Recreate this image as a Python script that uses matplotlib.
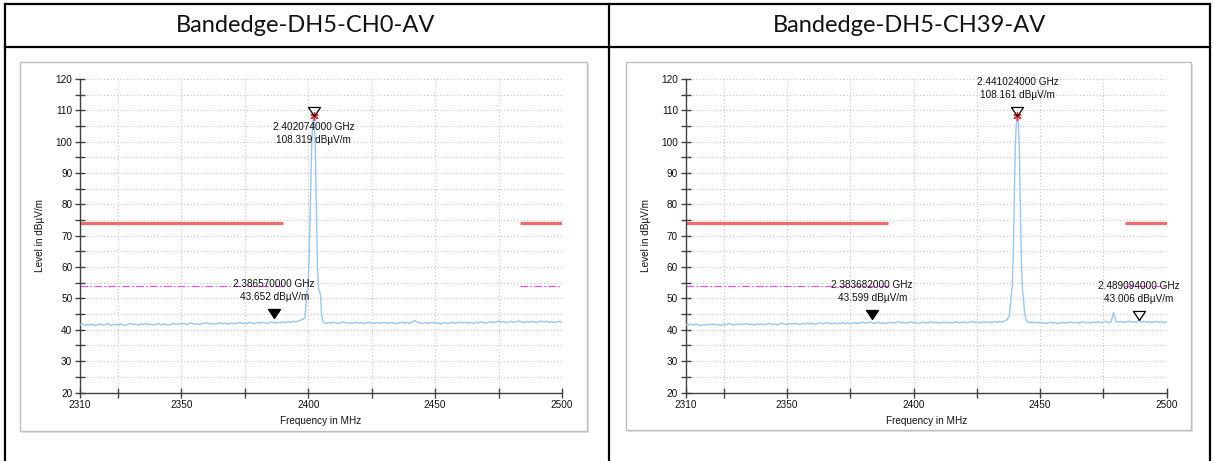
import numpy as np
import matplotlib
matplotlib.use("Agg")
import matplotlib.pyplot as plt
from matplotlib.patches import Rectangle
from matplotlib.lines import Line2D

# ---------------- data ----------------
titles = ["Bandedge-DH5-CH0-AV", "Bandedge-DH5-CH39-AV"]

x_ticks = [2310, 2325, 2350, 2375, 2400, 2425, 2450, 2475, 2500]
x_labels = ["2310", "", "2350", "", "2400", "", "2450", "", "2500"]
y_ticks = list(range(20, 121, 5))
y_labels = [str(v) if v % 10 == 0 else "" for v in y_ticks]

limit_peak = 74.0
limit_avg = 54.0
limit_ranges = [(2310, 2390), (2483.5, 2500)]

# Chart 1 (CH0)
c1_low_start = 2310
c1_low = [41.6, 41.9, 41.4, 41.7, 41.5, 41.8, 41.3, 41.6, 41.9, 41.5,
          41.7, 42.0, 41.4, 41.6, 41.8, 41.5, 41.9, 41.6, 41.4, 41.8,
          42.0, 41.6, 41.8, 41.5, 41.9, 41.7, 42.1, 41.6, 41.8, 41.5,
          41.7, 42.0, 41.6, 41.9, 41.7, 41.5, 41.8, 42.0, 41.7, 41.9,
          41.8, 42.1, 41.7, 41.9, 42.2, 41.8, 42.0, 41.7, 41.9, 42.1,
          42.3, 41.9, 42.1, 41.8, 42.0, 42.2, 41.9, 42.1, 41.8, 42.0,
          42.2, 41.9, 42.1, 42.3, 42.0, 42.2, 41.9, 42.4, 42.1, 42.0,
          42.3, 42.1, 42.4, 42.2, 42.0, 42.5, 42.3, 42.1, 42.4, 42.2,
          42.5, 42.3, 42.6, 42.4, 42.7, 42.5, 42.8, 43.1, 43.4]
c1_peak_f = [2398.6, 2399.0, 2399.4, 2399.8, 2400.3, 2400.8, 2401.3, 2401.7, 2402.074,
             2402.4, 2402.8, 2403.2, 2403.6, 2404.0, 2404.4, 2404.8, 2405.2, 2405.6]
c1_peak_l = [44.0, 47.0, 52.0, 53.0, 62.0, 80.0, 98.0, 105.5, 108.319,
             106.0, 96.0, 78.0, 60.0, 53.0, 52.5, 51.0, 45.0, 43.0]
c1_high_start = 2406
c1_high = [42.4, 42.0, 42.3, 42.1, 42.4, 42.2, 42.0, 42.3, 42.5, 42.1,
           42.3, 42.0, 42.2, 42.4, 42.1, 42.3, 42.0, 42.2, 42.4, 42.1,
           42.0, 42.3, 42.1, 42.2, 42.4, 42.0, 42.2, 42.3, 42.1, 42.0,
           42.2, 42.4, 42.1, 42.3, 42.0, 42.5, 43.0, 42.4, 42.2, 42.0,
           42.3, 42.1, 42.2, 42.4, 42.0, 42.2, 41.9, 42.1, 42.3, 42.0,
           42.2, 42.4, 42.1, 42.3, 42.5, 42.2, 42.4, 42.1, 42.3, 42.0,
           42.4, 42.2, 42.5, 42.3, 42.1, 42.4, 42.6, 42.3, 42.5, 42.8,
           42.4, 42.6, 42.3, 42.5, 42.7, 42.4, 42.6, 42.8, 42.5, 42.3,
           42.6, 42.4, 42.7, 42.5, 42.3, 42.6, 42.8, 42.5, 42.7, 42.4,
           42.6, 42.3, 42.5, 42.7, 42.4]
# markers: (freq MHz, level, filled, label position, peak star)
c1_markers = [(2386.570, 43.652, True, "above", False),
              (2402.074, 108.319, False, "below", True)]

# Chart 2 (CH39)
c2_low_start = 2310
c2_low = [41.7, 41.4, 41.8, 41.5, 41.9, 41.6, 41.3, 41.7, 41.5, 41.8,
          41.6, 41.9, 41.5, 41.7, 41.4, 41.8, 41.6, 42.0, 41.7, 41.5,
          41.8, 41.6, 41.9, 41.7, 42.0, 41.6, 41.8, 41.5, 41.9, 41.7,
          41.9, 41.6, 41.8, 42.0, 41.7, 41.9, 41.6, 41.8, 42.1, 41.8,
          41.7, 42.0, 41.8, 42.1, 41.9, 41.7, 42.0, 41.8, 42.2, 41.9,
          42.1, 41.8, 42.0, 42.2, 41.9, 42.1, 42.3, 41.9, 42.0, 42.2,
          41.9, 42.1, 42.3, 42.0, 42.2, 41.9, 42.1, 42.3, 42.0, 42.2,
          42.4, 42.1, 42.3, 42.5, 42.0, 42.2, 42.4, 42.1, 42.3, 42.0,
          42.2, 42.4, 42.1, 42.3, 42.6, 42.2, 42.4, 42.1, 42.3, 42.5,
          42.2, 42.4, 42.0, 42.3, 42.5, 42.1, 42.3, 42.6, 42.2, 42.4,
          42.1, 42.3, 42.5, 42.2, 42.4, 42.1, 42.3, 42.6, 42.2, 42.4,
          42.5, 42.2, 42.4, 42.7, 42.3, 42.5, 42.2, 42.4, 42.6, 42.3,
          42.5, 42.3, 42.6, 42.4, 42.7, 42.5, 42.8, 43.3]
c2_peak_f = [2437.8, 2438.2, 2438.6, 2439.0, 2439.4, 2439.8, 2440.2, 2440.6, 2441.024,
             2441.4, 2441.8, 2442.2, 2442.6, 2443.0, 2443.4, 2443.8, 2444.2, 2444.6]
c2_peak_l = [44.5, 47.5, 51.0, 54.0, 64.0, 82.0, 99.0, 106.0, 108.161,
             106.5, 97.0, 80.0, 62.0, 53.0, 50.0, 46.0, 44.0, 43.0]
c2_high_start = 2445
c2_high = [42.6, 42.3, 42.5, 42.2, 42.4, 42.1, 42.3, 42.0, 42.2, 42.4,
           42.1, 42.3, 42.0, 42.2, 42.4, 42.1, 42.3, 42.5, 42.2, 42.4,
           42.1, 42.3, 42.6, 42.2, 42.4, 42.1, 42.5, 42.3, 42.6, 42.2,
           42.4, 42.7, 42.3, 42.5, 45.5, 42.6, 42.4, 42.7, 42.3, 42.5,
           42.8, 42.4, 42.6, 42.3, 43.0, 42.5, 42.7, 42.4, 42.6, 42.3,
           42.5, 42.7, 42.4, 42.6, 42.3, 42.5]
c2_markers = [(2441.024, 108.161, False, "above", True),
              (2383.682, 43.599, True, "above", False),
              (2489.094, 43.006, False, "above", False)]

charts = [
    dict(low_start=c1_low_start, low=c1_low, pf=c1_peak_f, pl=c1_peak_l,
         high_start=c1_high_start, high=c1_high, markers=c1_markers),
    dict(low_start=c2_low_start, low=c2_low, pf=c2_peak_f, pl=c2_peak_l,
         high_start=c2_high_start, high=c2_high, markers=c2_markers),
]

# ---------------- layout ----------------
W, H = 1214, 461
fig = plt.figure(figsize=(W / 100, H / 100), dpi=100)
fig.patch.set_facecolor("white")


def fx(x):
    return x / W


def fy(y):
    return 1 - y / H


# table lines
tbl = dict(color="black", lw=1.6, transform=fig.transFigure, solid_capstyle="projecting")
fig.add_artist(Line2D([fx(4.5), fx(1210)], [fy(4.5), fy(4.5)], **tbl))
fig.add_artist(Line2D([fx(4.5), fx(1210)], [fy(47), fy(47)], **tbl))
fig.add_artist(Line2D([fx(4.5), fx(4.5)], [fy(4.5), fy(461)], **tbl))
fig.add_artist(Line2D([fx(609), fx(609)], [fy(4.5), fy(461)], **tbl))
fig.add_artist(Line2D([fx(1210), fx(1210)], [fy(4.5), fy(461)], **tbl))

frames = [(20, 62, 587, 431), (626, 62, 1191, 430)]
axes_px = [(80, 79, 562, 392.5), (685.7, 79, 1166.7, 392.5)]
title_x = [306, 910]

for i, ch in enumerate(charts):
    # header
    fig.text(fx(title_x[i]), fy(26), titles[i], ha="center", va="center",
             fontsize=17, family="Lato", color="#111111")
    # chart frame with shadow
    x0, y0, x1, y1 = frames[i]
    fig.add_artist(Rectangle((fx(x0 + 2), fy(y1 + 2)), fx(x1 - x0), (y1 - y0) / H,
                             transform=fig.transFigure, facecolor="#e4e4e4",
                             edgecolor="none", zorder=0))
    fig.add_artist(Rectangle((fx(x0), fy(y1)), fx(x1 - x0), (y1 - y0) / H,
                             transform=fig.transFigure, facecolor="white",
                             edgecolor="#bdbdbd", lw=1.0, zorder=0.5))

    ax0, ay0, ax1, ay1 = axes_px[i]
    ax = fig.add_axes([fx(ax0), fy(ay1), fx(ax1 - ax0), (ay1 - ay0) / H])
    ax.set_zorder(2)
    ax.patch.set_alpha(0)
    ax.set_xlim(2310, 2500)
    ax.set_ylim(20, 120)

    # grid
    for gx in range(2325, 2501, 25):
        ax.axvline(gx, color="#c4c4c4", lw=0.8, ls=(0, (1, 2)), zorder=1)
    for gy in range(25, 121, 5):
        ax.axhline(gy, color="#c4c4c4", lw=0.8, ls=(0, (1, 2)), zorder=1)

    # limit lines
    for (a, b) in limit_ranges:
        ax.plot([a, b], [limit_peak, limit_peak], color="#f26a6a", lw=2.3,
                solid_capstyle="butt", zorder=2)
        ax.plot([a, b], [limit_avg, limit_avg], color="#ff44ff", lw=0.8,
                ls=(0, (7, 2, 1.5, 2)), zorder=2)

    # trace
    f = list(np.arange(ch["low_start"], ch["low_start"] + len(ch["low"]))) + ch["pf"] + \
        list(np.arange(ch["high_start"], ch["high_start"] + len(ch["high"])))
    lv = ch["low"] + ch["pl"] + ch["high"]
    ax.plot(f, lv, color="#98c6f2", lw=1.0, zorder=3)

    # markers
    tri = [(-6, 9), (6, 9), (0, 0), (-6, 9)]
    for (mf, ml, filled, pos, star) in ch["markers"]:
        if star:
            ax.plot([mf], [ml], marker=(6, 2, 0), ms=6, mew=1.0, color="#e03030",
                    linestyle="none", zorder=5)
        ax.plot([mf], [ml], marker=tri, ms=13,
                markerfacecolor="black" if filled else "none",
                markeredgecolor="black", mew=0.9, linestyle="none", zorder=6)
        txt1 = "%.9f GHz" % (mf / 1000.0)
        txt2 = "%.3f dBµV/m" % ml
        if pos == "above":
            o1, o2 = 34, 21
        else:
            o1, o2 = -11, -24
        for t, o in ((txt1, o1), (txt2, o2)):
            ax.annotate(t, (mf, ml), xytext=(0, o), textcoords="offset pixels",
                        ha="center", va="center", fontsize=7.2,
                        family="Liberation Sans", color="#111111", zorder=7,
                        annotation_clip=False)

    # axes styling
    for s in ("top", "right"):
        ax.spines[s].set_visible(False)
    for s in ("left", "bottom"):
        ax.spines[s].set_color("#404040")
        ax.spines[s].set_linewidth(1.0)
    ax.set_xticks(x_ticks)
    ax.set_xticklabels(x_labels)
    ax.set_yticks(y_ticks)
    ax.set_yticklabels(y_labels)
    ax.tick_params(direction="inout", length=7, width=1.0, color="#404040",
                   labelsize=7.2, labelcolor="#111111", pad=2)
    for lab in ax.get_xticklabels() + ax.get_yticklabels():
        lab.set_family("Liberation Sans")
    ax.set_xlabel("Frequency in MHz", fontsize=7.2, family="Liberation Sans",
                  color="#111111", labelpad=4)
    ax.set_ylabel("Level in dBµV/m", fontsize=7.2, family="Liberation Sans",
                  color="#111111", labelpad=10)
    ax.yaxis.set_label_coords(-35 / (ax1 - ax0), 0.5)

fig.savefig("out.png", dpi=100, facecolor="white")
